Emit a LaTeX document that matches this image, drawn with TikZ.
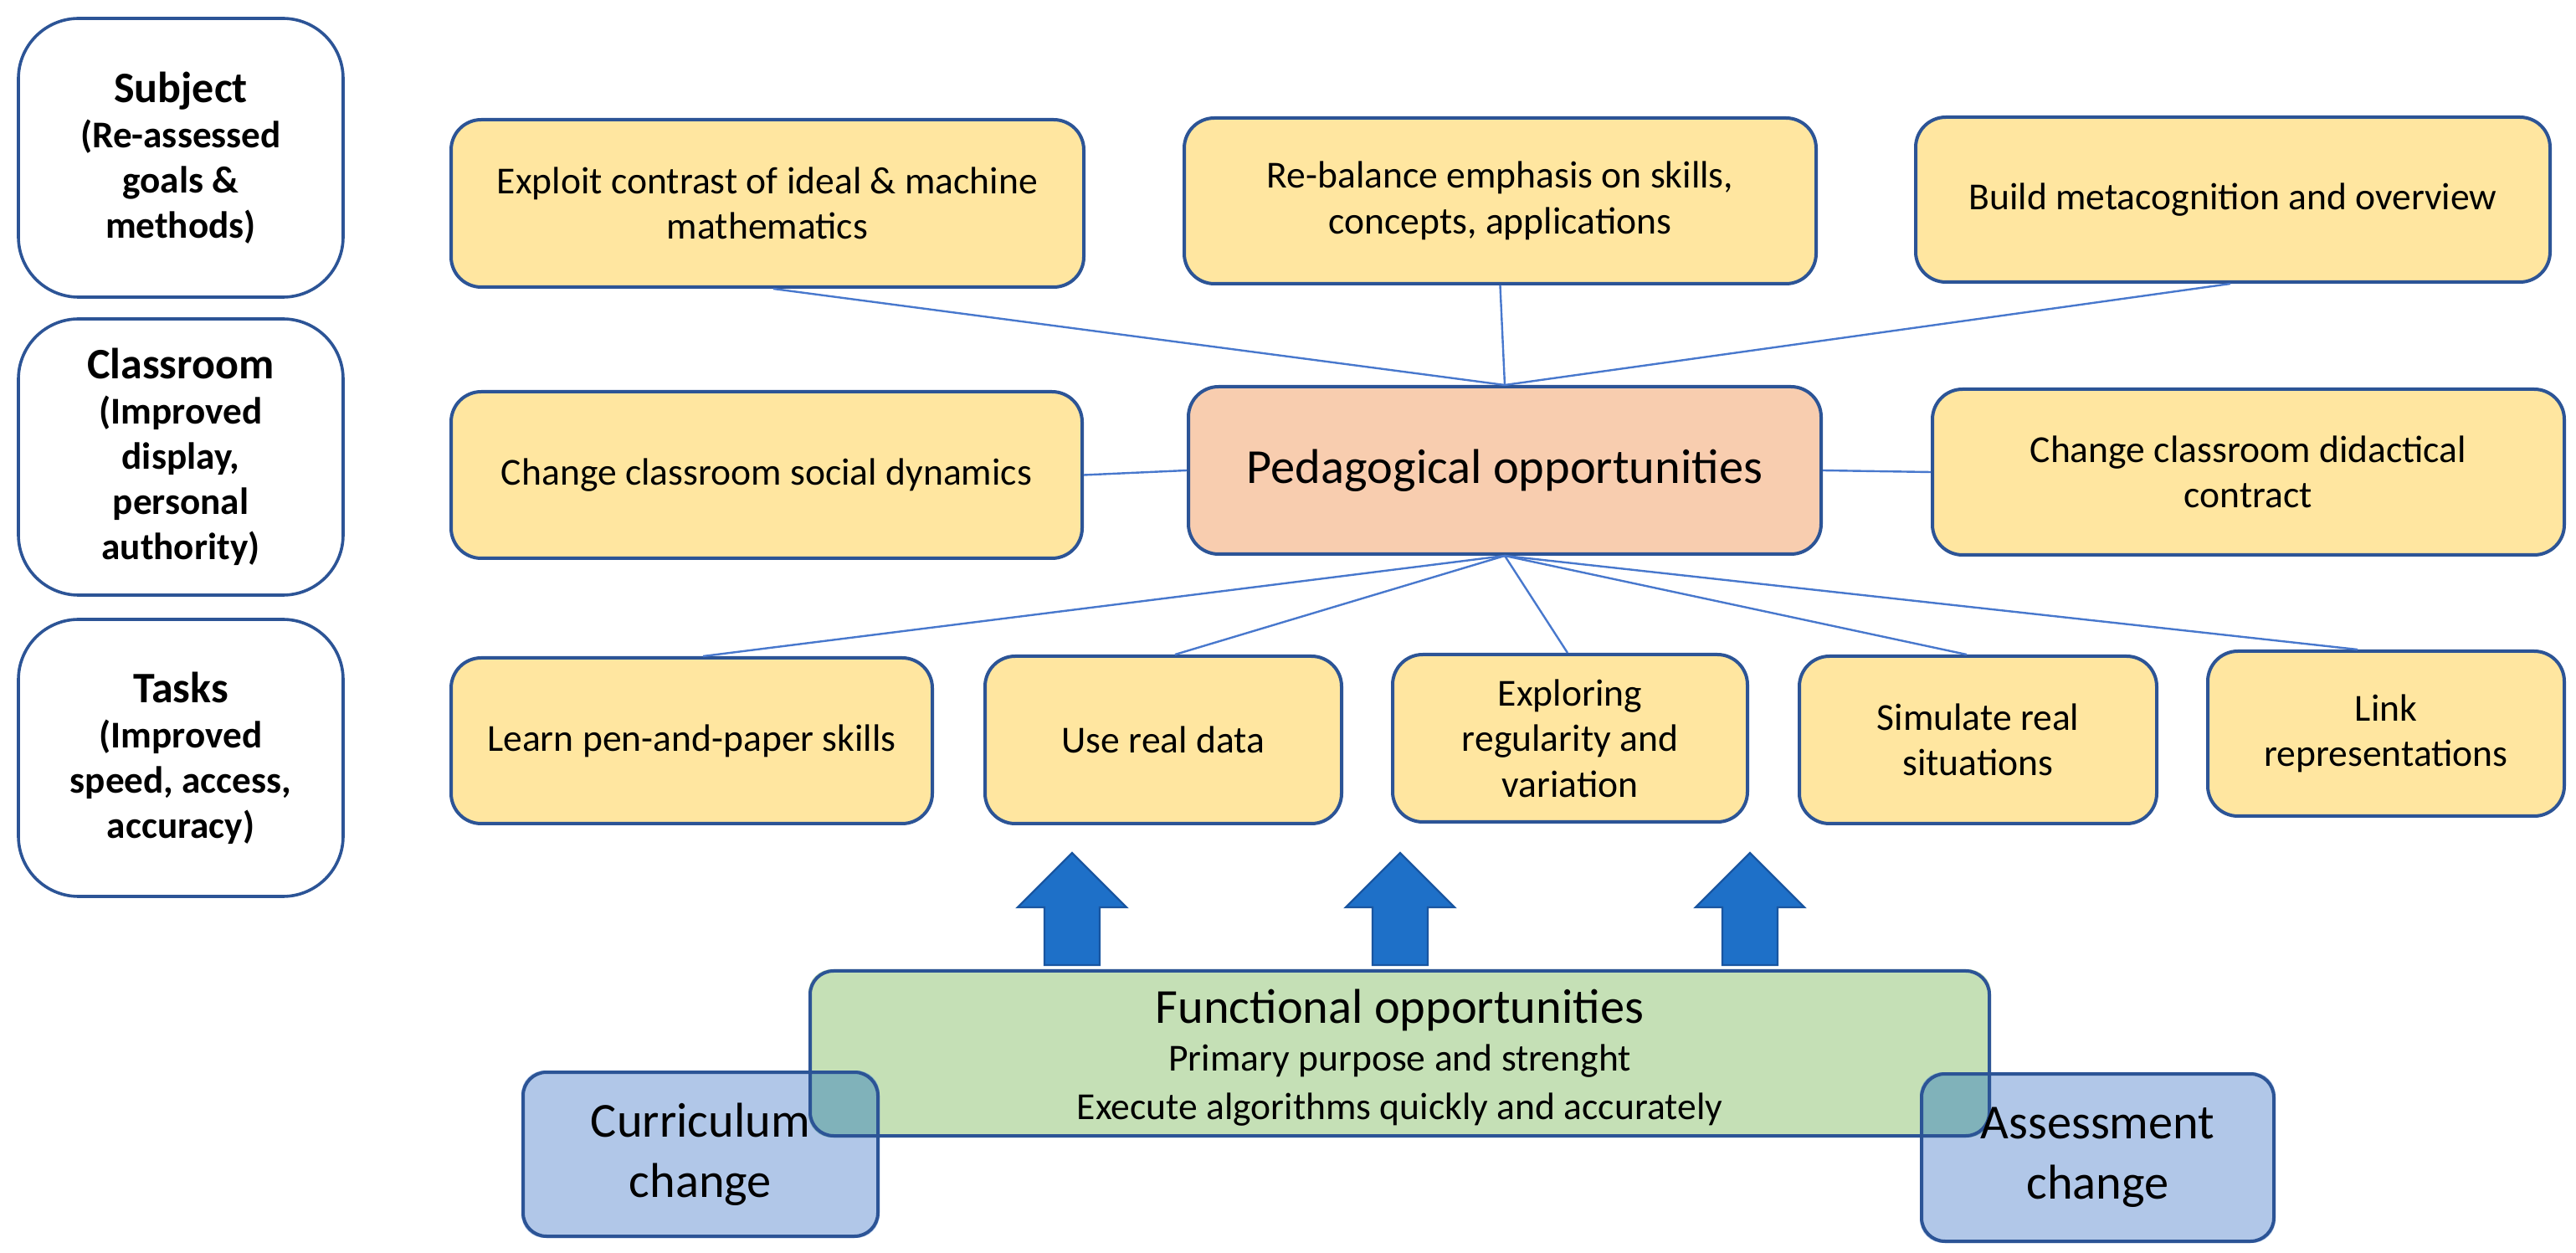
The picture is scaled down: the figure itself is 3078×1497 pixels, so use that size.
\documentclass[tikz,border=0pt]{standalone}
\usepackage{fontspec}
\setmainfont{Carlito}
\usetikzlibrary{calc}
\pgfdeclarelayer{background}
\pgfsetlayers{background,main}
\definecolor{bordercol}{RGB}{44,84,150}
\definecolor{yfill}{RGB}{255,230,160}
\definecolor{pedfill}{RGB}{248,205,175}
\definecolor{gfill}{RGB}{197,224,182}
\definecolor{bfill}{RGB}{177,199,232}
\definecolor{ovcol}{RGB}{128,178,186}
\definecolor{conncol}{RGB}{72,120,205}
\definecolor{arrfill}{RGB}{30,112,200}
\definecolor{arrdraw}{RGB}{25,85,160}
\begin{document}
\begin{tikzpicture}[x=0.25pt,y=-0.25pt,
  base/.style={draw=bordercol, line width=1pt, rounded corners=9pt, align=center, inner sep=0pt,
    font=\fontsize{11.4pt}{13.6pt}\selectfont},
  ybox/.style={base, fill=yfill},
  pedbox/.style={base, fill=pedfill, font=\fontsize{14.6pt}{17.6pt}\selectfont},
  labbox/.style={base, fill=white, rounded corners=18pt, line width=0.9pt,
    font=\bfseries\fontsize{11.3pt}{13.5pt}\selectfont},
  gbox/.style={base, rounded corners=7pt},
  bbox/.style={base, rounded corners=7pt, font=\fontsize{14.6pt}{18pt}\selectfont},
  conn/.style={draw=conncol, line width=0.6pt},
  bigarrow/.style={fill=arrfill, draw=arrdraw, line width=0.6pt, line join=miter}
]
\useasboundingbox (0,0) rectangle (3078,1497);

% left category boxes
\node[labbox, minimum width=97pt, minimum height=83.25pt] (subj) at (216,188.5)
  {{\fontsize{13pt}{13.5pt}\selectfont Subject}\\(Re-assessed\\goals \&\\methods)};
\node[labbox, minimum width=97pt, minimum height=82.5pt] (class) at (216,546)
  {{\fontsize{13pt}{13.5pt}\selectfont Classroom}\\(Improved\\display,\\personal\\authority)};
\node[labbox, minimum width=97pt, minimum height=82.75pt] (tasks) at (216,905.5)
  {{\fontsize{13pt}{13.5pt}\selectfont Tasks}\\(Improved\\speed, access,\\accuracy)};

% top row
\node[ybox, minimum width=189pt, minimum height=50pt] (exploit) at (917,243)
  {Exploit contrast of ideal \& machine\\mathematics};
\node[ybox, minimum width=188.75pt, minimum height=49.5pt] (rebal) at (1792.5,240)
  {Re-balance emphasis on skills,\\concepts, applications};
\node[ybox, minimum width=189.5pt, minimum height=49.25pt] (build) at (2668,238.5)
  {Build metacognition and overview};

% middle row
\node[ybox, minimum width=188.5pt, minimum height=49.75pt] (social) at (916,567.5)
  {Change classroom social dynamics};
\node[pedbox, minimum width=189pt, minimum height=50pt] (ped) at (1798,562)
  {Pedagogical opportunities};
\node[ybox, minimum width=188.75pt, minimum height=49.5pt] (didac) at (2686.5,564)
  {Change classroom didactical\\contract};

% bottom row
\node[ybox, minimum width=143.75pt, minimum height=49.5pt] (learn) at (826.5,885)
  {Learn pen-and-paper skills};
\node[ybox, minimum width=106.5pt, minimum height=50pt] (usedata) at (1390,884)
  {Use real data};
\node[ybox, minimum width=106pt, minimum height=50pt] (explore) at (1876,882)
  {Exploring\\regularity and\\variation};
\node[ybox, minimum width=106.75pt, minimum height=50pt] (simulate) at (2363.5,884)
  {Simulate real\\situations};
\node[ybox, minimum width=106.5pt, minimum height=49.25pt] (link) at (2851,876.5)
  {Link\\representations};

% connectors
\draw[conn] (ped.north) -- ([xshift=1.75pt]exploit.south);
\draw[conn] (ped.north) -- (rebal.south);
\draw[conn] (ped.north) -- ([xshift=-0.75pt]build.south);
\draw[conn] (social.east) -- (ped.west);
\draw[conn] (ped.east) -- (didac.west);
\draw[conn] (ped.south) -- ([xshift=3.4pt]learn.north);
\draw[conn] (ped.south) -- ([xshift=3.5pt]usedata.north);
\draw[conn] (ped.south) -- ([xshift=-0.75pt]explore.north);
\draw[conn] (ped.south) -- ([xshift=-3.4pt]simulate.north);
\draw[conn] (ped.south) -- ([xshift=-8.5pt]link.north);

% block arrows
\foreach \ax in {1281,1673,2091}{
  \draw[bigarrow] (\ax,1019) -- (\ax+65,1084) -- (\ax+33,1084) -- (\ax+33,1153)
    -- (\ax-33,1153) -- (\ax-33,1084) -- (\ax-65,1084) -- cycle;
}

% functional opportunities and change boxes (outlines and text)
\node[gbox, minimum width=352.25pt, minimum height=49.25pt] (func) at (1672.5,1258.5) {};
\node[font=\fontsize{14.6pt}{17.6pt}\selectfont, inner sep=0pt] (functitle) at (1672.5,1207) {Functional opportunities};
\node[font=\fontsize{11.4pt}{13.6pt}\selectfont, inner sep=0pt] (funcl1) at (1672.5,1268) {Primary purpose and strenght};
\node[font=\fontsize{11.4pt}{13.6pt}\selectfont, inner sep=0pt] (funcl2) at (1672.5,1326) {Execute algorithms quickly and accurately};
\node[bbox, minimum width=106pt, minimum height=49pt] (curr) at (837,1379)
  {Curriculum\\change};
\node[bbox, minimum width=105.25pt, minimum height=50pt] (assess) at (2506.5,1383)
  {Assessment\\change};

\begin{pgfonlayer}{background}
  \fill[gfill, rounded corners=7pt] (func.north west) rectangle (func.south east);
  \fill[bfill, rounded corners=7pt] (curr.north west) rectangle (curr.south east);
  \fill[bfill, rounded corners=7pt] (assess.north west) rectangle (assess.south east);
  \begin{scope}
    \clip[rounded corners=7pt] (func.north west) rectangle (func.south east);
    \fill[ovcol, rounded corners=7pt] (curr.north west) rectangle (curr.south east);
    \fill[ovcol, rounded corners=7pt] (assess.north west) rectangle (assess.south east);
  \end{scope}
\end{pgfonlayer}
\end{tikzpicture}
\end{document}
